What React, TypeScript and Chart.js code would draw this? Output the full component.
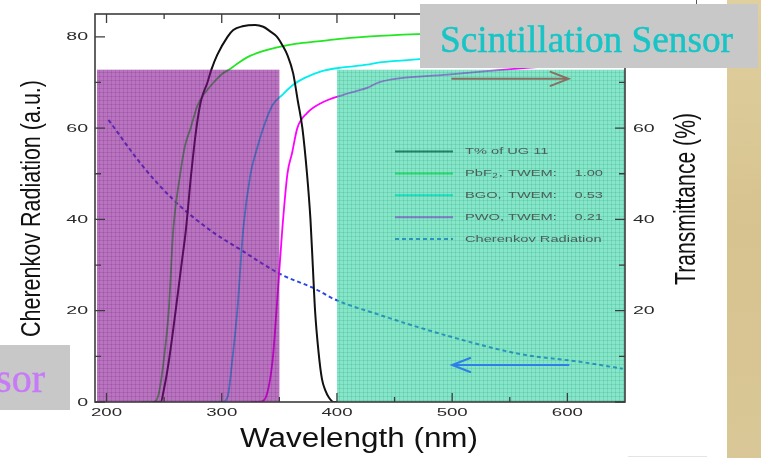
import React, { useEffect, useRef } from 'react';
import { Chart, registerables } from 'chart.js';

Chart.register(...registerables);

// ---------- data ----------
const ug11Wavelength = [240, 247, 250, 254, 260, 265, 269, 273.5, 278, 282, 287.6, 291, 296, 305, 310, 318, 329, 336, 342, 348, 353, 357, 362, 366, 370, 374, 377, 379, 381, 384, 387, 390, 393, 397, 400];
const ug11Transmittance = [0, 0, 3, 8.8, 20, 30, 38, 50, 60, 66, 70, 72.8, 76, 80, 81.5, 82.3, 82.6, 82.2, 81.2, 80, 78, 76, 72, 66, 60, 50, 40, 30, 20, 11, 5, 2.5, 1, 0, 0];

const pbf2Wavelength = [230, 240, 245, 249.5, 254, 258, 264, 268, 273, 279, 287.6, 293, 300, 307.5, 315, 322, 335, 348, 365, 383, 405, 429, 470, 550, 650];
const pbf2Transmittance = [0, 0, 1.5, 8.8, 20, 38, 50, 56, 60, 65, 68.4, 70, 71.8, 73, 74.4, 75.5, 76.8, 77.7, 78.5, 79, 79.6, 80.1, 80.6, 81.2, 81.6];

const bgoWavelength = [290, 300, 305, 309, 313.5, 318.7, 325, 330, 336, 344, 352.6, 362, 372, 385.6, 405, 426, 437, 472, 550, 650];
const bgoTransmittance = [0, 0, 1, 8.8, 20, 38, 50, 55, 60, 65, 67.3, 69.5, 71, 72.4, 73.3, 73.9, 74.4, 75.1, 76.2, 77];

const pwoWavelength = [325, 332, 337, 344, 347.5, 352.6, 357, 361, 365.6, 374, 385.6, 405.6, 426, 437, 496, 559, 600, 650];
const pwoTransmittance = [0, 0, 0.5, 8.8, 20, 38, 50, 54.5, 60, 63.3, 65.4, 67.3, 68.8, 70.1, 71.7, 73.1, 73.8, 74.5];

const cherenkovWavelength = [201.7, 232, 258, 288.5, 318, 351, 381, 397, 438, 496, 559, 611, 648];
const cherenkovIntensity = [61.8, 51.5, 44.3, 37.9, 33.1, 28, 24.8, 22.6, 19, 14.5, 10.5, 8.8, 7.3];

const xMajorTicks = [200, 300, 400, 500, 600];
const xMinorTicks = [250, 350, 450, 550];
const yMajorTicks = [0, 20, 40, 60, 80];
const yMinorTicks = [10, 30, 50, 70];
const bottomTickLabels = ['200', '300', '400', '500', '600'];
const leftTickLabels = ['0', '20', '40', '60', '80'];
const rightTickValues = [20, 40, 60, 80];
const rightTickLabels = ['20', '40', '60', '80'];

const legendTexts = ['T% of UG 11', 'PbF', 'BGO,', 'PWO,', 'Cherenkov Radiation'];
const twemValues = ['', '1.00', '0.53', '0.21', ''];

const cherenkovBand = [190, 350];
const scintBand = [400, 650];
const bandTop = 72.8;
const rightArrow = [500, 601, 70.8];
const leftArrow = [601, 500, 8.1];

const xRange = [190, 650];
const yRange = [0, 85];

const SERIES_COLORS = ['#111111', '#22e622', '#00eeee', '#ff00ff', '#2a48e8'];
const SANS = "'Liberation Sans', Arial, Helvetica, sans-serif";
const SERIF = "'Liberation Serif', 'Times New Roman', serif";

const toPoints = (xs: number[], ys: number[]) => xs.map((x, i) => ({ x, y: ys[i] }));

function stext(ctx: CanvasRenderingContext2D, text: string, x: number, y: number, o: { font: string; color: string; sx?: number; width?: number; align?: CanvasTextAlign; baseline?: CanvasTextBaseline; rotate?: number; stroke?: number }) {
  ctx.save();
  ctx.font = o.font;
  ctx.fillStyle = o.color;
  ctx.textAlign = o.align || 'left';
  ctx.textBaseline = o.baseline || 'alphabetic';
  ctx.translate(x, y);
  if (o.rotate) ctx.rotate(o.rotate);
  let s = o.sx || 1;
  if (o.width) s = o.width / ctx.measureText(text).width;
  ctx.scale(s, 1);
  ctx.fillText(text, 0, 0);
  if (o.stroke) {
    ctx.strokeStyle = o.color;
    ctx.lineWidth = o.stroke;
    ctx.lineJoin = 'miter';
    ctx.strokeText(text, 0, 0);
  }
  ctx.restore();
}

function hatch(ctx: CanvasRenderingContext2D, x0: number, y0: number, x1: number, y1: number, fill: string, line: string) {
  ctx.save();
  ctx.fillStyle = fill;
  ctx.fillRect(x0, y0, x1 - x0, y1 - y0);
  ctx.beginPath();
  ctx.rect(x0, y0, x1 - x0, y1 - y0);
  ctx.clip();
  ctx.strokeStyle = line;
  ctx.lineWidth = 1;
  ctx.beginPath();
  for (let x = x0 + 2; x < x1; x += 4) { ctx.moveTo(Math.round(x) + 0.5, y0); ctx.lineTo(Math.round(x) + 0.5, y1); }
  for (let y = y1 - 2; y > y0; y -= 4) { ctx.moveTo(x0, Math.round(y) + 0.5); ctx.lineTo(x1, Math.round(y) + 0.5); }
  ctx.stroke();
  ctx.restore();
}

function arrow(ctx: CanvasRenderingContext2D, xa: number, xb: number, y: number, color: string) {
  const dir = xb > xa ? 1 : -1;
  ctx.save();
  ctx.strokeStyle = color;
  ctx.lineWidth = 2;
  ctx.lineCap = 'round';
  ctx.beginPath();
  ctx.moveTo(xa, y);
  ctx.lineTo(xb, y);
  ctx.moveTo(xb - dir * 18, y - 7);
  ctx.lineTo(xb, y);
  ctx.lineTo(xb - dir * 18, y + 7);
  ctx.stroke();
  ctx.restore();
}

const decorPlugin = {
  id: 'decor',
  beforeDraw(chart: any) {
    const ctx: CanvasRenderingContext2D = chart.ctx;
    ctx.save();
    ctx.fillStyle = '#ffffff';
    ctx.fillRect(0, 0, chart.width, chart.height);
    const g = ctx.createLinearGradient(727, 0, 761, 458);
    g.addColorStop(0, '#e0cf9f');
    g.addColorStop(0.5, '#d6c38f');
    g.addColorStop(1, '#dac797');
    ctx.fillStyle = g;
    ctx.fillRect(727, 0, 34, 458);
    ctx.restore();
  },
  afterDatasetsDraw(chart: any) {
    const ctx: CanvasRenderingContext2D = chart.ctx;
    const xs = chart.scales.x;
    const ys = chart.scales.y;
    const a = chart.chartArea;
    const px = (v: number) => xs.getPixelForValue(v);
    const py = (v: number) => ys.getPixelForValue(v);

    // legend samples (under the overlays)
    const rowY = (i: number) => 151.5 + i * 21.9;
    ctx.save();
    legendTexts.forEach((_, i) => {
      ctx.strokeStyle = SERIES_COLORS[i];
      ctx.lineWidth = 2;
      ctx.setLineDash(i === 4 ? [4, 3] : []);
      ctx.beginPath();
      ctx.moveTo(395, rowY(i));
      ctx.lineTo(453, rowY(i));
      ctx.stroke();
    });
    ctx.restore();

    // translucent sensor bands
    hatch(ctx, px(cherenkovBand[0]) + 2, py(bandTop), px(cherenkovBand[1]), py(0), 'rgba(135,15,145,0.58)', 'rgba(80,0,90,0.13)');
    hatch(ctx, px(scintBand[0]), py(bandTop), px(scintBand[1]), py(0), 'rgba(45,212,160,0.58)', 'rgba(0,110,80,0.12)');

    // legend text
    const lf = `9.5px ${SANS}`;
    const lc = '#4b5f58';
    legendTexts.forEach((t, i) => {
      stext(ctx, t, 465, rowY(i), { font: lf, color: lc, sx: 1.54, baseline: 'middle' });
      if (i === 1) {
        ctx.save();
        ctx.font = lf;
        const w = ctx.measureText('PbF').width * 1.54;
        ctx.restore();
        stext(ctx, '2', 465 + w + 0.5, rowY(i) + 3, { font: `7px ${SANS}`, color: lc, sx: 1.4, baseline: 'middle' });
        stext(ctx, ',', 465 + w + 7, rowY(i), { font: lf, color: lc, sx: 1.54, baseline: 'middle' });
      }
      if (twemValues[i]) {
        stext(ctx, 'TWEM:', 508, rowY(i), { font: lf, color: lc, sx: 1.54, baseline: 'middle' });
        stext(ctx, twemValues[i], 603, rowY(i), { font: lf, color: lc, sx: 1.54, baseline: 'middle', align: 'right' });
      }
    });

    // frame
    ctx.save();
    ctx.strokeStyle = '#3c3c3c';
    ctx.lineWidth = 1.6;
    ctx.strokeRect(a.left, a.top, a.right - a.left, a.bottom - a.top);
    ctx.lineWidth = 1.3;
    ctx.beginPath();
    const tk = (len: number) => (v: number) => {
      const x = px(v);
      ctx.moveTo(x, a.bottom); ctx.lineTo(x, a.bottom - len);
      ctx.moveTo(x, a.top); ctx.lineTo(x, a.top + len);
    };
    xMajorTicks.forEach(tk(9));
    xMinorTicks.forEach(tk(5));
    const tky = (len: number) => (v: number) => {
      const y = py(v);
      ctx.moveTo(a.left, y); ctx.lineTo(a.left + len, y);
      ctx.moveTo(a.right, y); ctx.lineTo(a.right - len, y);
    };
    yMajorTicks.forEach(tky(10));
    yMinorTicks.forEach(tky(6));
    ctx.stroke();
    ctx.restore();

    // tick labels
    const tf = `11.5px ${SANS}`;
    const tcol = '#2a2a2a';
    xMajorTicks.forEach((v, i) => stext(ctx, bottomTickLabels[i], px(v), 412.5, { font: tf, color: tcol, sx: 1.62, align: 'center', baseline: 'middle' }));
    yMajorTicks.forEach((v, i) => stext(ctx, leftTickLabels[i], a.left - 7, py(v) + 0.5, { font: tf, color: tcol, sx: 1.7, align: 'right', baseline: 'middle' }));
    rightTickValues.forEach((v, i) => stext(ctx, rightTickLabels[i], a.right + 8, py(v) + 0.5, { font: tf, color: tcol, sx: 1.7, align: 'left', baseline: 'middle' }));

    // axis titles
    stext(ctx, 'Wavelength (nm)', (a.left + a.right) / 2 - 1, 447, { font: `27px ${SANS}`, color: '#111', width: 238, align: 'center' });
    stext(ctx, 'Cherenkov Radiation (a.u.)', 40, (a.top + a.bottom) / 2 + 0.5, { font: `28px ${SANS}`, color: '#111', width: 257, align: 'center', rotate: -Math.PI / 2 });
    stext(ctx, 'Transmittance (%)', 695, 199, { font: `30px ${SANS}`, color: '#111', width: 172, align: 'center', rotate: -Math.PI / 2 });

    // arrows
    arrow(ctx, px(rightArrow[0]), px(rightArrow[1]), py(rightArrow[2]), '#8b6e62');
    arrow(ctx, px(leftArrow[0]), px(leftArrow[1]), py(leftArrow[2]), '#2e7fe6');

    // slide overlays
    ctx.save();
    ctx.fillStyle = '#c8c8c8';
    ctx.fillRect(420, 4, 338, 64);
    ctx.fillRect(0, 345, 70, 65);
    ctx.strokeStyle = '#555';
    ctx.lineWidth = 1;
    ctx.beginPath();
    ctx.moveTo(696.5, 0); ctx.lineTo(696.5, 4);
    ctx.stroke();
    ctx.strokeStyle = '#e4e4e4';
    ctx.beginPath();
    ctx.moveTo(628, 456.5); ctx.lineTo(707, 456.5);
    ctx.stroke();
    ctx.restore();
    stext(ctx, 'Scintillation Sensor', 586.5, 52, { font: `38px ${SERIF}`, color: '#17c4c6', width: 293, align: 'center', stroke: 0.5 });
    stext(ctx, 'sor', 45, 392, { font: `40px ${SERIF}`, color: '#c77af7', align: 'right', stroke: 0.5 });
  },
};

export default function App() {
  const ref = useRef<HTMLCanvasElement | null>(null);
  useEffect(() => {
    if (!ref.current) return;
    const line = (label: string, xs: number[], ys: number[], color: string, width: number, dash: number[] = []) => ({
      label,
      data: toPoints(xs, ys),
      borderColor: color,
      backgroundColor: color,
      borderWidth: width,
      borderDash: dash,
      pointRadius: 0,
      fill: false,
      cubicInterpolationMode: 'monotone' as const,
    });
    const chart = new Chart(ref.current, {
      type: 'line',
      data: {
        datasets: [
          line('T% of UG 11', ug11Wavelength, ug11Transmittance, SERIES_COLORS[0], 2),
          line('PbF2, TWEM: 1.00', pbf2Wavelength, pbf2Transmittance, SERIES_COLORS[1], 1.8),
          line('BGO, TWEM: 0.53', bgoWavelength, bgoTransmittance, SERIES_COLORS[2], 1.8),
          line('PWO, TWEM: 0.21', pwoWavelength, pwoTransmittance, SERIES_COLORS[3], 1.8),
          line('Cherenkov Radiation', cherenkovWavelength, cherenkovIntensity, SERIES_COLORS[4], 2, [4, 3]),
        ],
      },
      options: {
        responsive: false,
        animation: false,
        devicePixelRatio: 1,
        layout: { padding: { left: 95, top: 14, right: 136, bottom: 56 } },
        scales: {
          x: { type: 'linear', min: xRange[0], max: xRange[1], display: false },
          y: { type: 'linear', min: yRange[0], max: yRange[1], display: false },
        },
        plugins: { legend: { display: false }, tooltip: { enabled: false } },
      },
      plugins: [decorPlugin],
    });
    return () => chart.destroy();
  }, []);
  return (
    <div style={{ position: 'fixed', left: 0, top: 0, width: 761, height: 458 }}>
      <canvas ref={ref} width={761} height={458} style={{ width: 761, height: 458, display: 'block' }} />
    </div>
  );
}
